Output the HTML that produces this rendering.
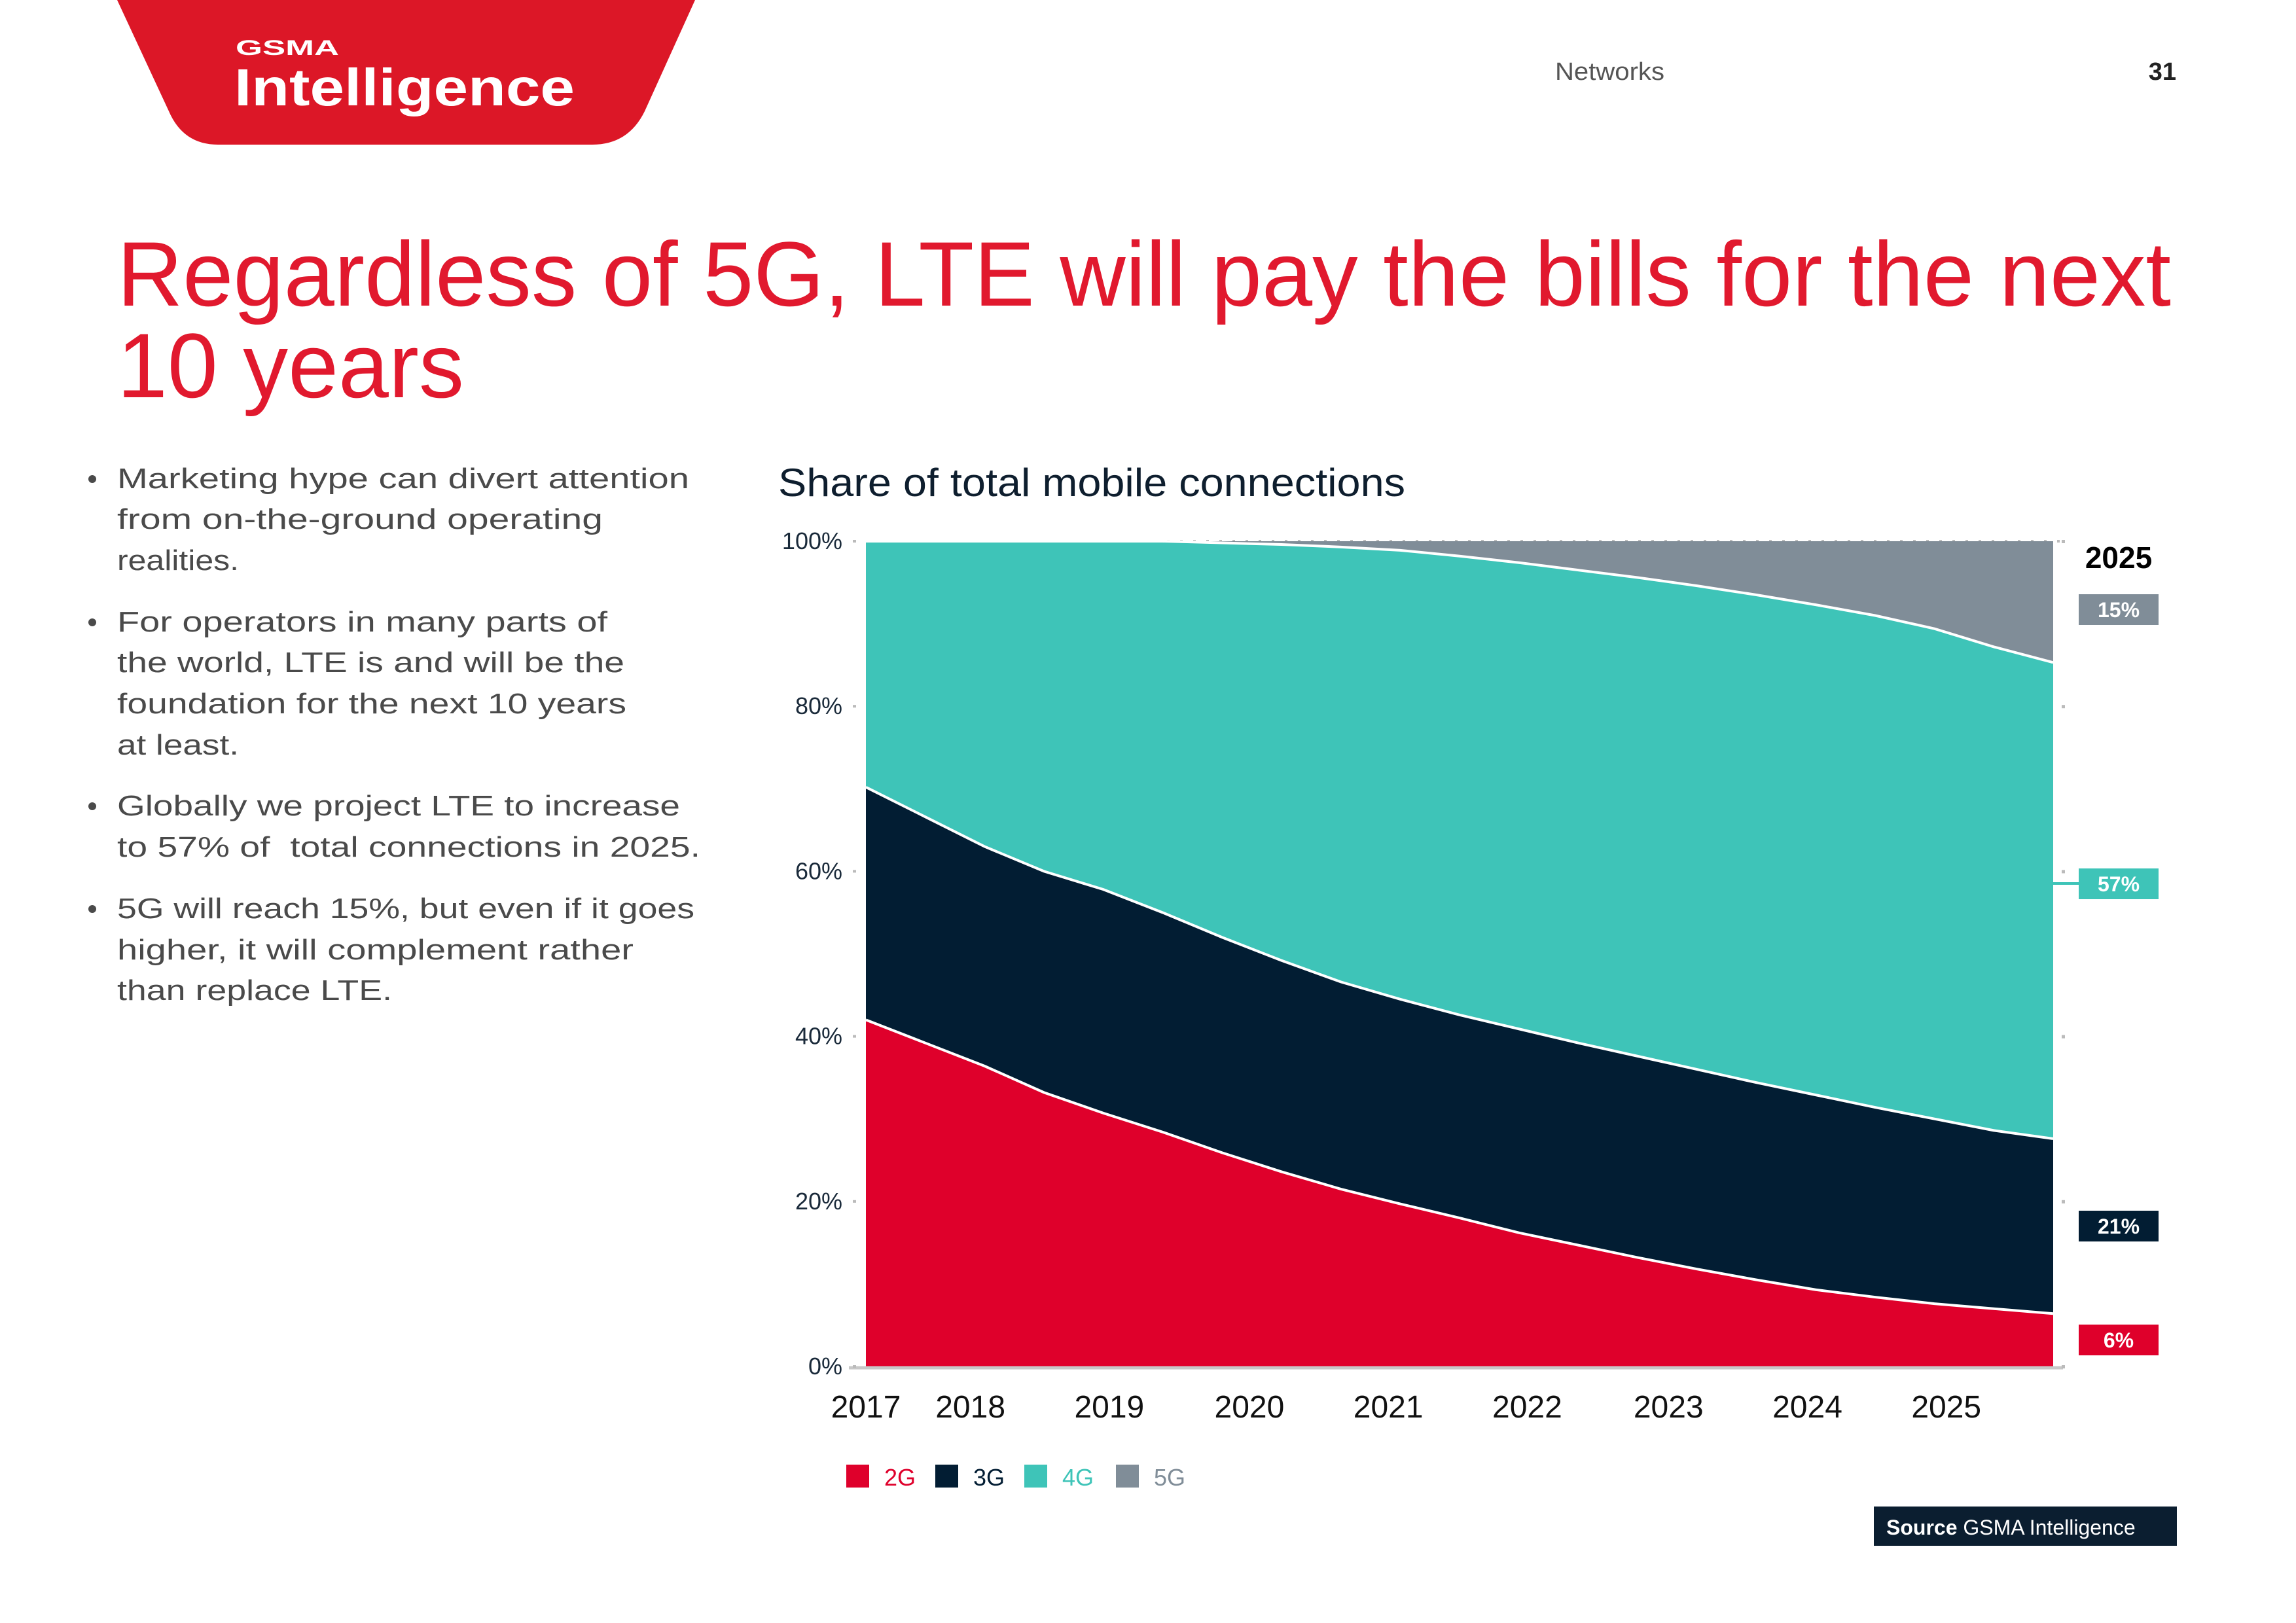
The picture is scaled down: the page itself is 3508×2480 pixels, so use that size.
<!DOCTYPE html>
<html><head><meta charset="utf-8"><style>
html,body{margin:0;padding:0;background:#fff;}
svg{display:block;font-family:"Liberation Sans",sans-serif;}
</style></head><body>
<svg id="page" width="3508" height="2480" viewBox="0 0 3508 2480" xmlns="http://www.w3.org/2000/svg">
<rect width="3508" height="2480" fill="#fff"/>
<g>
<path d="M179 0 L1062 0 L985 170 Q960 221 905 221 L333 221 Q280 221 258 170 Z" fill="#dc1727"/>
<text x="360" y="84" font-size="32" font-weight="bold" fill="#fff" textLength="158" lengthAdjust="spacingAndGlyphs">GSMA</text>
<text x="358" y="161" font-size="80" font-weight="bold" fill="#fff" textLength="520" lengthAdjust="spacingAndGlyphs">Intelligence</text>
</g>
<text x="2376" y="122" font-size="38" fill="#555" textLength="167" lengthAdjust="spacingAndGlyphs">Networks</text>
<text x="3325" y="122" font-size="38" font-weight="bold" fill="#222" text-anchor="end">31</text>
<g fill="#e1192e" font-size="140">
<text x="179" y="467" textLength="3138" lengthAdjust="spacingAndGlyphs">Regardless of 5G, LTE will pay the bills for the next</text>
<text x="179" y="607" textLength="530" lengthAdjust="spacingAndGlyphs">10 years</text>
</g>
<g id="bullets" fill="#4a4a4a" font-size="44"></g>
<text x="1189" y="758" font-size="60" fill="#0e1e2e" textLength="958" lengthAdjust="spacingAndGlyphs">Share of total mobile connections</text>
<g id="chart"></g>
<g>
<rect x="2863" y="2302" width="463" height="60" fill="#0b1e30"/>
<text x="2882" y="2345" font-size="32" fill="#fff"><tspan font-weight="bold">Source</tspan> GSMA Intelligence</text>
</g>
</svg>
<script>
const NS='http://www.w3.org/2000/svg';
const periods=[0,5,10,15,20,25,30,35,40,45,50,55,60,65,70,75,80,85,90,95,100];
const share2G=[42.0,39.2,36.4,33.2,30.7,28.4,25.9,23.6,21.5,19.7,18.0,16.2,14.7,13.2,11.8,10.5,9.3,8.4,7.6,7.0,6.4];
const share3G=[28.2,27.4,26.6,26.8,27.1,26.6,26.1,25.6,25.1,24.8,24.6,24.7,24.5,24.4,24.2,23.9,23.6,23.0,22.4,21.6,21.2];
const share4G=[29.8,33.4,37.0,40.0,42.2,45.0,47.8,50.4,52.7,54.4,55.6,56.5,57.3,58.0,58.6,59.1,59.4,59.6,59.4,58.6,57.7];
const share5G=[0,0,0,0,0,0,0.2,0.4,0.7,1.1,1.8,2.6,3.5,4.4,5.4,6.5,7.7,9.0,10.6,12.8,14.7];
const xTickLabels=['2017','2018','2019','2020','2021','2022','2023','2024','2025'];
const xTickPeriods=[0,8.8,20.5,32.3,44.0,55.7,67.6,79.3,91.0];
const yTicks=[0,20,40,60,80,100];
const endLabels=['6%','21%','57%','15%'];

const X0=1323,X1=3137,Y0=2088,Y1=827;
const xs=p=>X0+p/100*(X1-X0);
const ys=v=>Y0-v/100*(Y0-Y1);
const chart=document.getElementById('chart');
function mk(tag,attrs,parent){const e=document.createElementNS(NS,tag);for(const k in attrs)e.setAttribute(k,attrs[k]);(parent||chart).appendChild(e);return e;}

let dl=mk('line',{x1:X0,y1:Y1,x2:X1+20,y2:Y1,stroke:'#bbb','stroke-width':4,'stroke-dasharray':'4 16'});



const series=[['2G',share2G,'#df002b'],['3G',share3G,'#021d33'],['4G',share4G,'#3ec4b8'],['5G',share5G,'#808d98']];
let base=periods.map(()=>0);
const tops=[];
series.forEach(([name,vals,col])=>{
  const top=base.map((b,i)=>b+vals[i]);
  let d='M'+periods.map((p,i)=>xs(p)+','+ys(top[i])).join(' L');
  for(let i=periods.length-1;i>=0;i--) d+=' L'+xs(periods[i])+','+ys(base[i]);
  const a=mk('path',{d:d+'Z',fill:col});
  
  
  tops.push(top);base=top;
});
tops.slice(0,3).forEach((top,k)=>{
  const l=mk('polyline',{points:periods.map((p,i)=>xs(p)+','+ys(top[i])).join(' '),fill:'none',stroke:'#fff','stroke-width':4});
  
  
});
let ax=mk('line',{x1:1297,y1:Y0+2,x2:X1+15,y2:Y0+2,stroke:'#c8c8c8','stroke-width':5});


yTicks.forEach(v=>{
  const t=mk('text',{x:1287,y:ys(v)+12,'font-size':36,fill:'#1a2a3a','text-anchor':'end'});
  t.textContent=v+'%';
  
  
  const m=mk('rect',{x:1303,y:ys(v)-2,width:5,height:4,fill:'#bbb'});
  
  
  const r=mk('rect',{x:X1+13,y:ys(v)-2,width:5,height:5,fill:'#bbb'});
  
  
});
xTickLabels.forEach((lab,i)=>{
  const t=mk('text',{x:xs(xTickPeriods[i]),y:2166,'font-size':48,fill:'#111','text-anchor':'middle'});
  t.textContent=lab;
  
  
});
const yr=mk('text',{x:3237,y:868,'font-size':46,'font-weight':'bold',fill:'#000','text-anchor':'middle'});
yr.textContent='2025';


const boxCenters=[2047,1873,1350,931];
series.forEach(([name,vals,col],k)=>{
  const cy=boxCenters[k];
  if(name==='4G'){
    const c=mk('line',{x1:X1,y1:cy,x2:3176,y2:cy,stroke:col,'stroke-width':4});
    
    
  }
  const b=mk('rect',{x:3176,y:cy-23,width:122,height:47,fill:col});
  
  
  const t=mk('text',{x:3237,y:cy+12,'font-size':32,'font-weight':'bold',fill:'#fff','text-anchor':'middle'});
  t.textContent=endLabels[k];
  
  
});
const legX=[1293,1429,1565,1705];
const legTxt=['#df002b','#021d33','#3ec4b8','#808d98'];
series.forEach(([name,vals,col],k)=>{
  const s=mk('rect',{x:legX[k],y:2238,width:35,height:35,fill:col});
  
  
  const t=mk('text',{x:legX[k]+58,y:2270,'font-size':36,fill:legTxt[k]});
  t.textContent=name;
  
  
});
const bullets=document.getElementById('bullets');
const lines=[
 [746,'Marketing hype can divert attention',874,true],
 [808,'from on-the-ground operating',742],
 [871,'realities.',186],
 [965,'For operators in many parts of',749,true],
 [1027,'the world, LTE is and will be the',775],
 [1090,'foundation for the next 10 years',778],
 [1153,'at least.',186],
 [1246,'Globally we project LTE to increase',860,true],
 [1309,'to 57% of\u00a0 total connections in 2025.',891],
 [1403,'5G will reach 15%, but even if it goes',882,true],
 [1466,'higher, it will complement rather',789],
 [1528,'than replace LTE.',420]];
lines.forEach(([y,txt,w,dot])=>{
  const t=document.createElementNS(NS,'text');
  t.setAttribute('x',179);t.setAttribute('y',y);
  t.setAttribute('textLength',w);t.setAttribute('lengthAdjust','spacingAndGlyphs');
  t.textContent=txt;
  
  
  bullets.appendChild(t);
  if(dot){const c=document.createElementNS(NS,'circle');
    c.setAttribute('cx',141);c.setAttribute('cy',y-14);c.setAttribute('r',6);
    
    
    bullets.appendChild(c);}
});
</script>
</body></html>
